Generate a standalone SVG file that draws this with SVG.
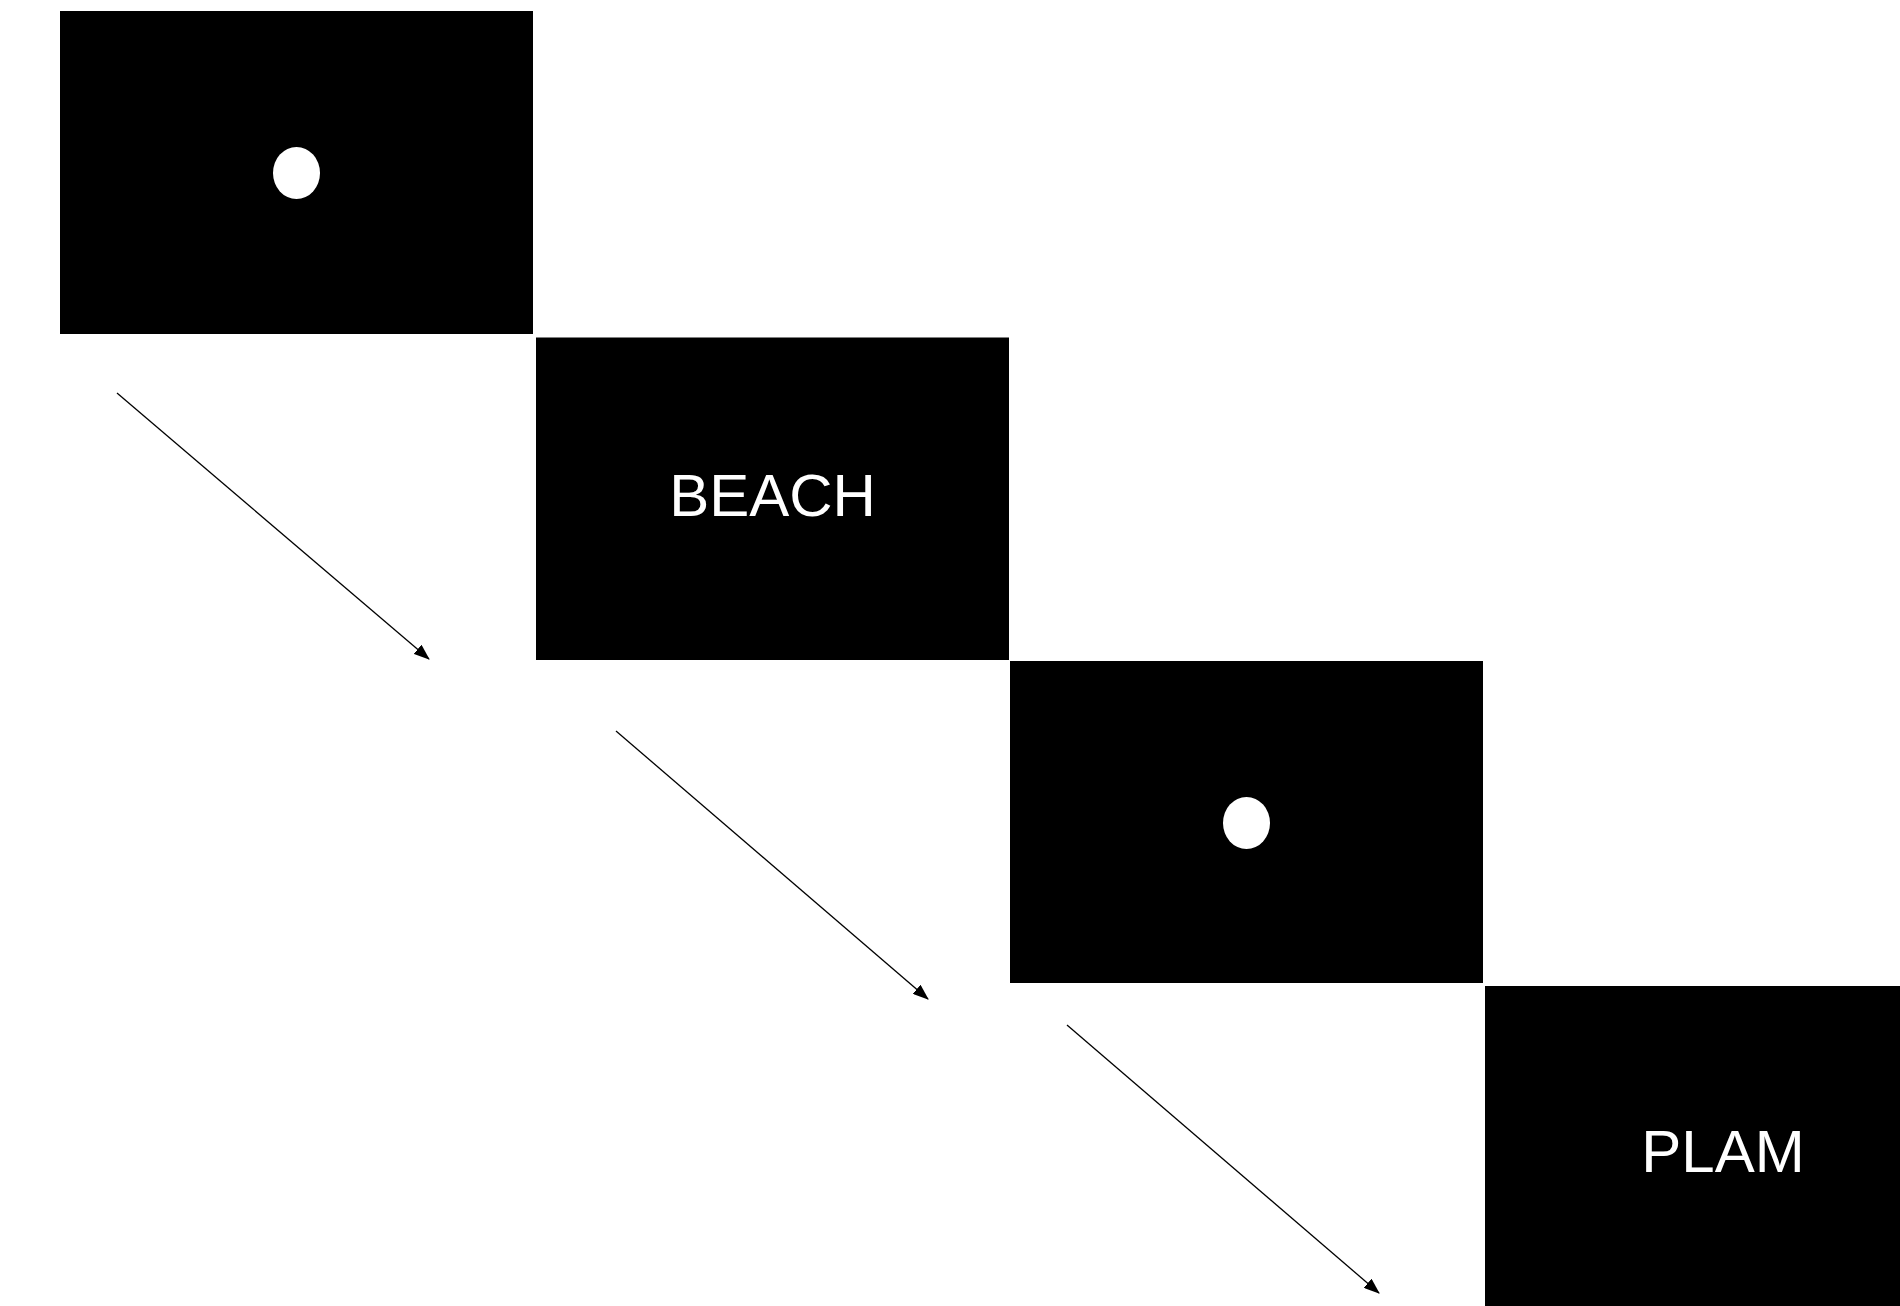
<svg xmlns="http://www.w3.org/2000/svg" width="1900" height="1306" viewBox="0 0 1900 1306">
<style>
.box{fill:#000}
.dot{fill:#fff}
.lbl{fill:#fff;font-family:"Liberation Sans",Arial,sans-serif;text-anchor:middle;font-size:60px}
.conn{stroke:#000;stroke-width:1.3;fill:none}
</style>
<defs>
<marker id="ah" markerWidth="16" markerHeight="12" refX="15" refY="6" orient="auto" markerUnits="userSpaceOnUse">
<path d="M0,0 L16,6 L0,12 Z" fill="#000"/>
</marker>
</defs>
<rect width="1900" height="1306" fill="#fff"/>
<g id="node-fixation1">
<rect class="box" x="60" y="11" width="473" height="323"/>
<ellipse class="dot" cx="296.5" cy="173" rx="23.5" ry="26"/>
</g>
<g id="node-beach">
<rect class="box" x="536" y="337.5" width="473" height="322.5"/>
<text class="lbl" x="772.5" y="516">BEACH</text>
</g>
<g id="node-fixation2">
<rect class="box" x="1010" y="661" width="473" height="322"/>
<ellipse class="dot" cx="1246.5" cy="823" rx="23.5" ry="26"/>
</g>
<g id="node-plam">
<rect class="box" x="1485" y="986" width="473" height="323"/>
<text class="lbl" x="1723" y="1172">PLAM</text>
</g>
<g id="connectors">
<line class="conn" x1="117" y1="393" x2="429" y2="659" marker-end="url(#ah)"/>
<line class="conn" x1="616" y1="731" x2="928" y2="999" marker-end="url(#ah)"/>
<line class="conn" x1="1067" y1="1025" x2="1379" y2="1293" marker-end="url(#ah)"/>
</g>
</svg>
